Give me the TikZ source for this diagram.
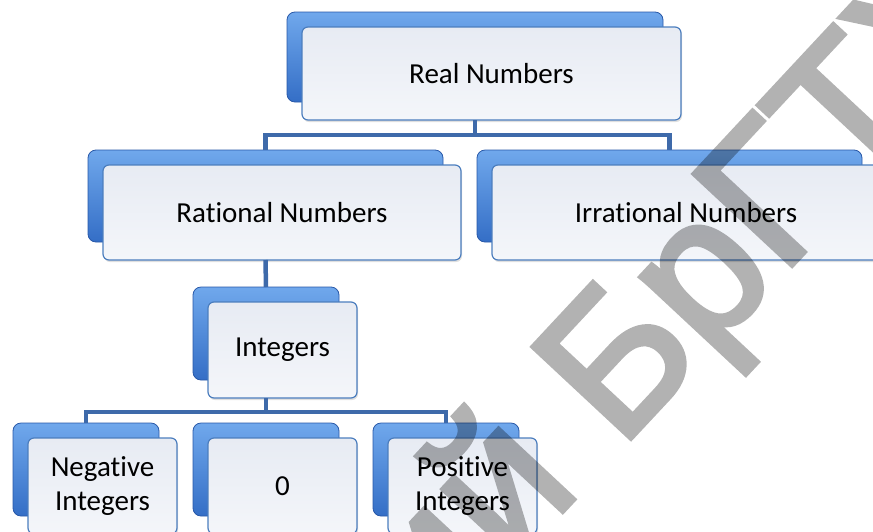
\documentclass[tikz,border=0pt]{standalone}
\usepackage{fontspec}
\setmainfont{Carlito}[Ligatures=NoCommon]
\newfontfamily\wmfont{Liberation Sans}[FakeBold=2.5]
\usetikzlibrary{shadows}

\definecolor{tabtop}{RGB}{112,168,236}
\definecolor{tabbot}{RGB}{52,110,198}
\definecolor{tabedge}{RGB}{40,88,168}
\definecolor{fronttop}{RGB}{231,235,243}
\definecolor{frontbot}{RGB}{244,246,250}
\definecolor{frontedge}{RGB}{76,126,190}
\definecolor{connblue}{RGB}{62,106,170}

\tikzset{
  tabbox/.style={rounded corners=8pt, draw=tabedge, line width=0.8pt,
    top color=tabtop, bottom color=tabbot, inner sep=0pt, outer sep=0pt},
  frontbox/.style={rounded corners=6pt, draw=frontedge, line width=1.2pt,
    top color=fronttop, bottom color=frontbot, inner sep=0pt, outer sep=0pt,
    align=center, text=black, font=\fontsize{29}{34}\selectfont,
    drop shadow={shadow xshift=1pt, shadow yshift=-2pt, opacity=0.25}},
  conn/.style={draw=connblue, line width=4.5pt},
  wmark/.style={text=black, inner sep=0pt, outer sep=0pt,
    font=\wmfont\fontsize{195}{195}\selectfont}
}

% a card: blue tab behind, light front panel offset down and right
% #1 name, #2 tab left, #3 tab top (measured downwards), #4 tab width, #5 tab height, #6 label
\newcommand\card[6]{%
  \node[tabbox, minimum width=#4pt, minimum height=#5pt, anchor=north west]
    (#1tab) at (#2,-#3) {};
  \node[frontbox, minimum width=#4pt+3pt, minimum height=#5pt+3pt, anchor=north west]
    (#1) at ([xshift=15pt,yshift=-15pt]#1tab.north west) {#6};
}

\begin{document}
\begin{tikzpicture}[x=1pt,y=1pt]
  \path[use as bounding box] (0,0) rectangle (873,-531);
  \clip (0,0) rectangle (873,-531);

  \card{real}{287}{12}{376}{90}{Real Numbers}
  \card{rat}{88}{150}{355}{92}{Rational Numbers}
  \card{irr}{477}{150}{385}{92}{Irrational Numbers}
  \card{int}{193}{287}{146}{93}{Integers}
  \card{neg}{13}{423}{146}{93}{Negative\\Integers}
  \card{zero}{193}{423}{146}{93}{0}
  \card{pos}{373}{423}{146}{93}{Positive\\Integers}

  % connectors
  \draw[conn] (real.south -| realtab.north) -- ++(0,-15) coordinate (rbar) -| (rattab.north);
  \draw[conn] (rbar) -| (irrtab.north);
  \draw[conn] (rat.south -| rattab.north) -- (inttab.north);
  \draw[conn] (int.south -| inttab.north) -- ++(0,-14) coordinate (ibar) -| (negtab.north);
  \draw[conn] (ibar) -| (postab.north);

  % repository watermark, see-through
  \begin{scope}[transparency group, opacity=0.3]
    \node[wmark, rotate=47, anchor=base west] (wm) at (620,-450) {\llap{Репозиторий }БрГТУ};
  \end{scope}
\end{tikzpicture}
\end{document}
